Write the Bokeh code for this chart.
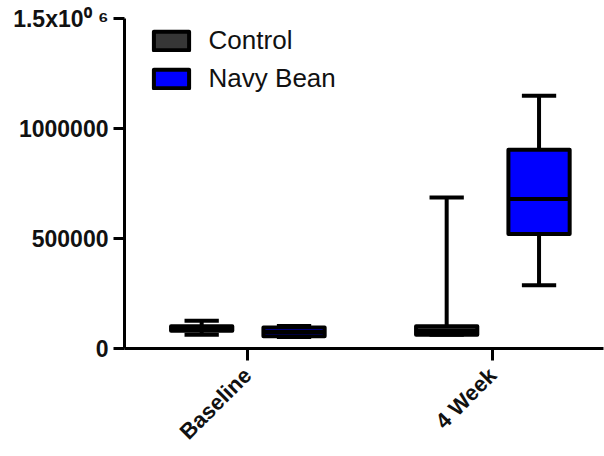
from math import pi
from bokeh.plotting import figure
from bokeh.models import FixedTicker, Legend, LegendItem
from bokeh.embed import file_html
from bokeh.resources import INLINE

categories = ["Baseline", "4 Week"]
groups = ["Control", "Navy Bean"]
control_min = [63000, 63000]
control_q1 = [81000, 63000]
control_median = [90000, 80000]
control_q3 = [101000, 101000]
control_max = [126000, 686000]
navy_min = [52000, 288000]
navy_q1 = [56000, 520000]
navy_median = [75000, 679000]
navy_q3 = [96000, 903000]
navy_max = [102000, 1149000]
yticks = [0, 500000, 1000000, 1500000]
ytick_labels = ["0", "500000", "1000000", "1.5x10\u2070 \u2076"]
colors = ["#363636", "#0000FF"]

stats = {
    "Control": (control_min, control_q1, control_median, control_q3, control_max),
    "Navy Bean": (navy_min, navy_q1, navy_median, navy_q3, navy_max),
}
offsets = {"Control": -0.187, "Navy Bean": 0.19}
box_w = 0.25
cap_w = 0.14
LW = 4

p = figure(width=604, height=456, x_range=(0.498, 2.4531), y_range=(0, 1500000),
           output_backend="svg", toolbar_location=None,
           min_border_left=124, min_border_right=1, min_border_top=18, min_border_bottom=108)
p.outline_line_color = None
p.grid.visible = False
p.background_fill_color = "white"

legend_items = []
for g, col in zip(groups, colors):
    mn, q1, md, q3, mx = stats[g]
    xs = [i + 1 + offsets[g] for i in range(len(categories))]
    xl_box = [x - box_w / 2 for x in xs]
    xr_box = [x + box_w / 2 for x in xs]
    xl_cap = [x - cap_w / 2 for x in xs]
    xr_cap = [x + cap_w / 2 for x in xs]
    p.segment(xs, q3, xs, mx, line_color="black", line_width=LW)
    p.segment(xs, q1, xs, mn, line_color="black", line_width=LW)
    p.segment(xl_cap, mx, xr_cap, mx, line_color="black", line_width=LW)
    p.segment(xl_cap, mn, xr_cap, mn, line_color="black", line_width=LW)
    r = p.vbar(x=xs, width=box_w, bottom=q1, top=q3, fill_color=col,
               line_color="black", line_width=LW, line_join="round")
    p.segment(xl_box, md, xr_box, md, line_color="black", line_width=LW)
    legend_items.append(LegendItem(label=g, renderers=[r]))

legend = Legend(items=legend_items, location=(24.6, 254),
                glyph_width=44, glyph_height=23, label_standoff=16, spacing=7,
                padding=0, margin=0, border_line_alpha=0, background_fill_alpha=0,
                label_text_font="Liberation Sans", label_text_font_size="26px",
                label_text_color="#111111", label_height=30)
p.add_layout(legend)

p.yaxis.ticker = FixedTicker(ticks=yticks)
p.yaxis.major_label_overrides = dict(zip(yticks, ytick_labels))
p.xaxis.ticker = FixedTicker(ticks=[i + 1 for i in range(len(categories))])
p.xaxis.major_label_overrides = {i + 1: c for i, c in enumerate(categories)}
p.xaxis.major_label_orientation = pi / 4

for ax in (p.xaxis, p.yaxis):
    ax.axis_line_width = 3
    ax.axis_line_color = "black"
    ax.major_tick_line_width = 3
    ax.major_tick_line_color = "black"
    ax.major_tick_in = 0
    ax.minor_tick_line_color = None
    ax.major_label_text_font = "Liberation Sans"
    ax.major_label_text_font_style = "bold"
    ax.major_label_text_color = "#111111"
p.yaxis.major_tick_out = 11
p.yaxis.major_label_standoff = 5
p.yaxis.major_label_text_font_size = "23px"
p.xaxis.major_tick_out = 12
p.xaxis.major_label_standoff = 11
p.xaxis.major_label_text_font_size = "22px"

open("out.html", "w").write(file_html(p, INLINE))
